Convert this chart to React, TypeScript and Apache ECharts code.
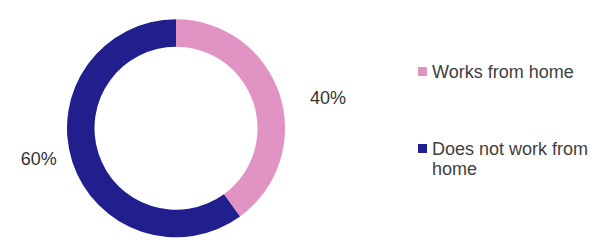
import React, { useEffect, useRef } from "react";
import * as echarts from "echarts";

const categories = ["Works from home", "Does not work from home"];
const values = [40, 60];
const colors = ["#E194C4", "#211F8E"];

export default function App() {
  const ref = useRef<HTMLDivElement>(null);
  useEffect(() => {
    if (!ref.current) return;
    const chart = echarts.init(ref.current, null, { renderer: "svg" });
    const font = "'Liberation Sans', Arial, sans-serif";
    chart.setOption({
      animation: false,
      backgroundColor: "#ffffff",
      legend: {
        orient: "vertical",
        left: 413,
        top: 56.5,
        itemWidth: 9,
        itemHeight: 9,
        itemGap: 37,
        icon: "rect",
        formatter: (name: string) => (name === categories[1] ? "\n" + name : name),
        textStyle: {
          fontFamily: font,
          fontSize: 18,
          color: "#404040",
          lineHeight: 20,
          width: 165,
          overflow: "break",
        },
        data: categories,
      },
      series: [
        {
          type: "pie",
          center: [176, 128.3],
          radius: [81.5, 109],
          startAngle: 90,
          clockwise: true,
          avoidLabelOverlap: false,
          label: {
            show: true,
            position: "outside",
            formatter: (p: any) => `${p.value}%`,
            fontFamily: font,
            fontSize: 18,
            color: "#333333",
            distanceToLabelLine: 5,
          },
          labelLine: { show: false, length: 0, length2: 0 },
          labelLayout: (p: any) =>
            p.dataIndex === 0 ? { dx: 25.3, dy: 2.9 } : { dx: -10.6, dy: -3 },
          emphasis: { disabled: true },
          data: categories.map((name, i) => ({
            name,
            value: values[i],
            itemStyle: { color: colors[i] },
          })),
        },
      ],
    });
    return () => chart.dispose();
  }, []);
  return (
    <div
      ref={ref}
      style={{ position: "fixed", left: 0, top: 0, width: 605, height: 247 }}
    />
  );
}
